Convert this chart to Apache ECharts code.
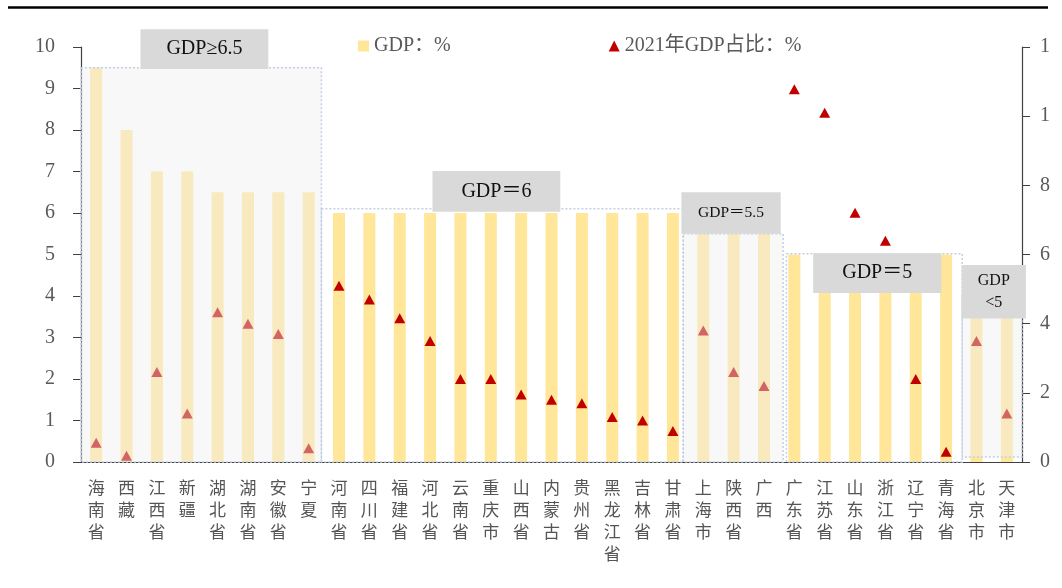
<!DOCTYPE html>
<html>
<head>
<meta charset="utf-8">
<script src="https://cdn.jsdelivr.net/npm/echarts@6/dist/echarts.min.js"></script>
<style>
    html, body { margin: 0; padding: 0; background: #fff; }
    #chart { width: 1050px; height: 588px; }
</style>
</head>
<body>
<div id="chart"></div>
<script>
// data
const provinces = ['海南省', '西藏', '江西省', '新疆', '湖北省', '湖南省', '安徽省', '宁夏',
    '河南省', '四川省', '福建省', '河北省', '云南省', '重庆市', '山西省', '内蒙古', '贵州省', '黑龙江省', '吉林省', '甘肃省',
    '上海市', '陕西省', '广西',
    '广东省', '江苏省', '山东省', '浙江省', '辽宁省', '青海省',
    '北京市', '天津市'];
const gdpTarget = [9.5, 8, 7, 7, 6.5, 6.5, 6.5, 6.5,
    6, 6, 6, 6, 6, 6, 6, 6, 6, 6, 6, 6,
    5.5, 5.5, 5.5,
    5, 5, 5, 5, 5, 5,
    4.5, 4.5];
const gdpShare2021 = [0.56, 0.18, 2.6, 1.4, 4.33, 4.0, 3.7, 0.4,
    5.1, 4.7, 4.16, 3.5, 2.4, 2.4, 1.95, 1.8, 1.7, 1.3, 1.2, 0.9,
    3.8, 2.6, 2.2,
    10.78, 10.1, 7.21, 6.4, 2.4, 0.3,
    3.5, 1.4];
const groupTitles = ['GDP≥6.5', 'GDP＝6', 'GDP＝5.5', 'GDP＝5', 'GDP\n<5'];
const leftTicks = [0, 10, 1];
const rightTicks = [0, 12, 2];

// layout of the dotted group boxes: [x from, x to, y from, y to, filled] (x in category units)
const boxes = [
    [0, 7.92, 0, 9.5, 1],
    [7.92, 19.84, 0, 6.1, 0],
    [19.84, 23.13, 0, 5.5, 1],
    [23.24, 29.03, 0, 5.02, 0],
    [29.03, 31, 0.12, 4.0, 1]
];
// layout of the grey title boxes: [x from, x to, y top, y bottom, font size]
const titleBoxes = [
    [1.96, 6.17, 10.43, 9.47, 20],
    [11.58, 15.79, 7.01, 6.03, 20],
    [19.78, 23.05, 6.5, 5.5, 15.5],
    [24.12, 28.34, 5.03, 4.07, 20],
    [29.01, 31.13, 4.75, 3.46, 16]
];

const FONT = '"Liberation Serif", "Noto Sans CJK SC", serif';

const myChart = echarts.init(document.getElementById('chart'));

const option = {
    animation: false,
    backgroundColor: '#fff',
    textStyle: { fontFamily: FONT },
    grid: { left: 81, right: 28, top: 47, bottom: 126, outerBoundsMode: 'none', containLabel: false },
    graphic: [{
        type: 'line',
        shape: { x1: 8, y1: 7.5, x2: 1048, y2: 7.5 },
        style: { stroke: '#000', lineWidth: 2.5 }
    }],
    legend: {
        left: 353,
        top: 31,
        itemWidth: 11,
        itemHeight: 11,
        itemGap: 158,
        textStyle: { color: '#595959', fontSize: 20, fontFamily: FONT },
        data: [
            { name: 'GDP：%', icon: 'rect' },
            { name: '2021年GDP占比：%', icon: 'triangle' }
        ]
    },
    xAxis: [{
        type: 'category',
        data: provinces,
        axisLine: { lineStyle: { color: '#404040', width: 1.2 } },
        axisTick: { length: 6, lineStyle: { color: '#404040' } },
        axisLabel: {
            interval: 0,
            margin: 15,
            color: '#555',
            fontSize: 17,
            lineHeight: 22,
            fontFamily: '"Noto Sans CJK SC", sans-serif',
            formatter: v => v.split('').join('\n')
        }
    }, {
        type: 'value',
        min: 0,
        max: provinces.length,
        show: false
    }],
    yAxis: [{
        type: 'value',
        min: leftTicks[0],
        max: leftTicks[1],
        interval: leftTicks[2],
        axisLine: { show: true, lineStyle: { color: '#404040', width: 1.2 } },
        axisTick: { show: true, length: 8, lineStyle: { color: '#404040' } },
        splitLine: { show: false },
        axisLabel: { color: '#595959', fontSize: 20, margin: 26, fontFamily: FONT }
    }, {
        type: 'value',
        min: rightTicks[0],
        max: rightTicks[1],
        interval: rightTicks[2],
        position: 'right',
        axisLine: { show: true, lineStyle: { color: '#404040', width: 1.2 } },
        axisTick: { show: true, length: 8, lineStyle: { color: '#404040' } },
        splitLine: { show: false },
        axisLabel: { color: '#595959', fontSize: 20, margin: 18, fontFamily: FONT }
    }],
    series: [
        {
            name: 'GDP：%',
            type: 'bar',
            data: gdpTarget,
            barWidth: 12,
            z: 2,
            itemStyle: { color: '#FFE699' }
        },
        {
            name: '2021年GDP占比：%',
            type: 'scatter',
            yAxisIndex: 1,
            data: gdpShare2021,
            symbol: 'triangle',
            symbolSize: [11, 10],
            z: 3,
            itemStyle: { color: '#C00000', opacity: 1 }
        },
        {
            // dotted group boxes, pale fill over the first, third and last groups
            type: 'custom',
            xAxisIndex: 1,
            yAxisIndex: 0,
            z: 5,
            clip: false,
            silent: true,
            data: boxes,
            renderItem(params, api) {
                const p0 = api.coord([api.value(0), api.value(3)]);
                const p1 = api.coord([api.value(1), api.value(2)]);
                return {
                    type: 'rect',
                    shape: { x: p0[0], y: p0[1], width: p1[0] - p0[0], height: p1[1] - p0[1] },
                    style: {
                        fill: api.value(4) ? 'rgba(238,238,240,0.42)' : 'none',
                        stroke: '#c2cfe3',
                        lineWidth: 1.5,
                        lineDash: [2, 2]
                    }
                };
            }
        },
        {
            // grey title boxes
            type: 'custom',
            xAxisIndex: 1,
            yAxisIndex: 0,
            z: 6,
            clip: false,
            silent: true,
            data: titleBoxes,
            renderItem(params, api) {
                const p0 = api.coord([api.value(0), api.value(2)]);
                const p1 = api.coord([api.value(1), api.value(3)]);
                const fs = api.value(4);
                return {
                    type: 'group',
                    children: [{
                        type: 'rect',
                        shape: { x: p0[0], y: p0[1], width: p1[0] - p0[0], height: p1[1] - p0[1] },
                        style: { fill: '#d9d9d9' }
                    }, {
                        type: 'text',
                        x: (p0[0] + p1[0]) / 2,
                        y: (p0[1] + p1[1]) / 2,
                        style: {
                            text: groupTitles[params.dataIndex],
                            fill: '#111',
                            fontSize: fs,
                            fontFamily: FONT,
                            lineHeight: fs + 6,
                            align: 'center',
                            verticalAlign: 'middle'
                        }
                    }]
                };
            }
        }
    ]
};
myChart.setOption(option);
</script>
</body>
</html>
